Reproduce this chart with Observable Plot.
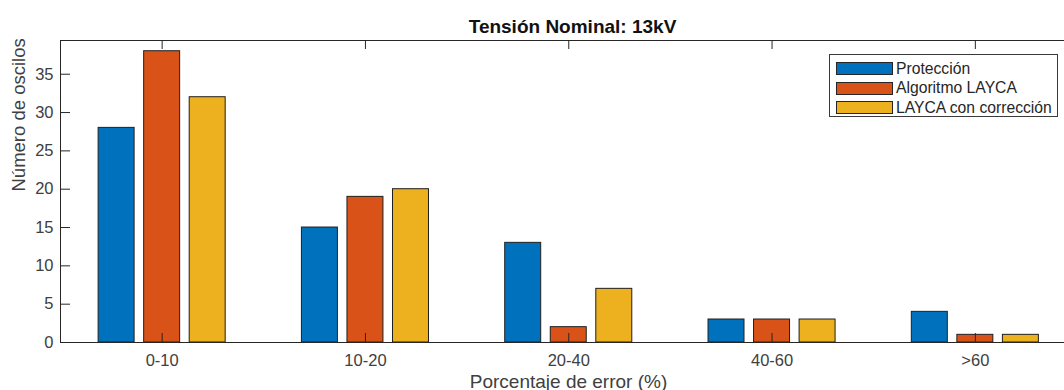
<!DOCTYPE html>
<html>
<head>
<meta charset="utf-8">
<script src="https://cdn.jsdelivr.net/npm/d3@7"></script>
<script src="https://cdn.jsdelivr.net/npm/@observablehq/plot@0.6"></script>
<style>
  html, body { margin: 0; padding: 0; background: #fff; }
  #wrap { position: relative; width: 1064px; height: 390px; overflow: hidden; font-family: "Liberation Sans", Arial, sans-serif; }
  #legend { position: absolute; left: 829px; top: 54px; width: 229px; height: 63px; border: 1px solid #3a3a3a; background: #fff; box-sizing: border-box; padding: 4px 0 0 6px; }
  .item { display: flex; align-items: center; height: 19.5px; font-size: 15.7px; color: #262626; }
  .sw { width: 57px; height: 13px; border: 1px solid #262626; box-sizing: border-box; margin-right: 3px; }
</style>
</head>
<body>
<div id="wrap"></div>
<script>
const categories = ["0-10", "10-20", "20-40", "40-60", ">60"];
const seriesNames = ["Protección", "Algoritmo LAYCA", "LAYCA con corrección"];
const proteccion = [28, 15, 13, 3, 4];
const algoritmo = [38, 19, 2, 3, 1];
const corregido = [32, 20, 7, 3, 1];
const colors = ["#0072BD", "#D95319", "#EDB120"];
const yTicks = [0, 5, 10, 15, 20, 25, 30, 35];
const title = "Tensión Nominal: 13kV";
const xLabel = "Porcentaje de error (%)";
const yLabel = "Número de oscilos";

const seriesValues = [proteccion, algoritmo, corregido];
const rows = [];
seriesValues.forEach((vals, j) => vals.forEach((v, i) => rows.push({i: i + 1, j, series: seriesNames[j], value: v})));

const groupOffset = 0.224, barW = 0.177;
const xDomain = [0.5, 0.5 + 1004 / 203.3];
const yDomain = [0, 39.4];
const catIdx = categories.map((_, i) => i + 1);
const axisColor = "#262626";

const plot = Plot.plot({
  width: 1064, height: 390,
  marginLeft: 60, marginRight: 0, marginTop: 40, marginBottom: 48,
  style: {fontFamily: "'Liberation Sans', Arial, sans-serif", background: "white"},
  x: {type: "linear", domain: xDomain, axis: null},
  y: {domain: yDomain, axis: null},
  color: {domain: seriesNames, range: colors},
  marks: [
    Plot.rectY(rows, {
      x1: d => d.i + (d.j - 1) * groupOffset - barW / 2,
      x2: d => d.i + (d.j - 1) * groupOffset + barW / 2,
      y: "value", fill: "series", stroke: "#1f1f1f", strokeWidth: 1
    }),
    Plot.ruleY([yDomain[0]], {stroke: axisColor}),
    Plot.ruleY([yDomain[1]], {stroke: axisColor}),
    Plot.ruleX([xDomain[0]], {stroke: axisColor}),
    Plot.tickX(catIdx, {x: d => d, stroke: axisColor, insetTop: 293}),
    Plot.tickX(catIdx, {x: d => d, stroke: axisColor, insetBottom: 293}),
    Plot.tickY(yTicks, {y: d => d, stroke: axisColor, insetRight: 994}),
    Plot.axisY(yTicks, {tickSize: 0, tickPadding: 7, fontSize: 16.5, color: "#404040", label: null}),
    Plot.axisX(catIdx, {tickSize: 0, tickPadding: 12, fontSize: 16.5, color: "#404040", label: null,
      tickFormat: d => categories[d - 1]}),
    Plot.text([title], {frameAnchor: "top", lineAnchor: "bottom", dy: -8, dx: 10, fontSize: 19, fontWeight: "bold", fill: "#111"}),
    Plot.text([xLabel], {frameAnchor: "bottom", lineAnchor: "bottom", dy: 45, dx: 6, fontSize: 19, fill: "#404040"}),
    Plot.text([yLabel], {frameAnchor: "left", rotate: -90, dx: -41, fontSize: 18.5, fill: "#404040"})
  ]
});
const wrap = document.getElementById("wrap");
wrap.appendChild(plot);

const legend = document.createElement("div");
legend.id = "legend";
seriesNames.forEach((name, j) => {
  const item = document.createElement("div");
  item.className = "item";
  const sw = document.createElement("div");
  sw.className = "sw";
  sw.style.background = colors[j];
  const label = document.createElement("span");
  label.textContent = name;
  item.appendChild(sw);
  item.appendChild(label);
  legend.appendChild(item);
});
wrap.appendChild(legend);
</script>
</body>
</html>
